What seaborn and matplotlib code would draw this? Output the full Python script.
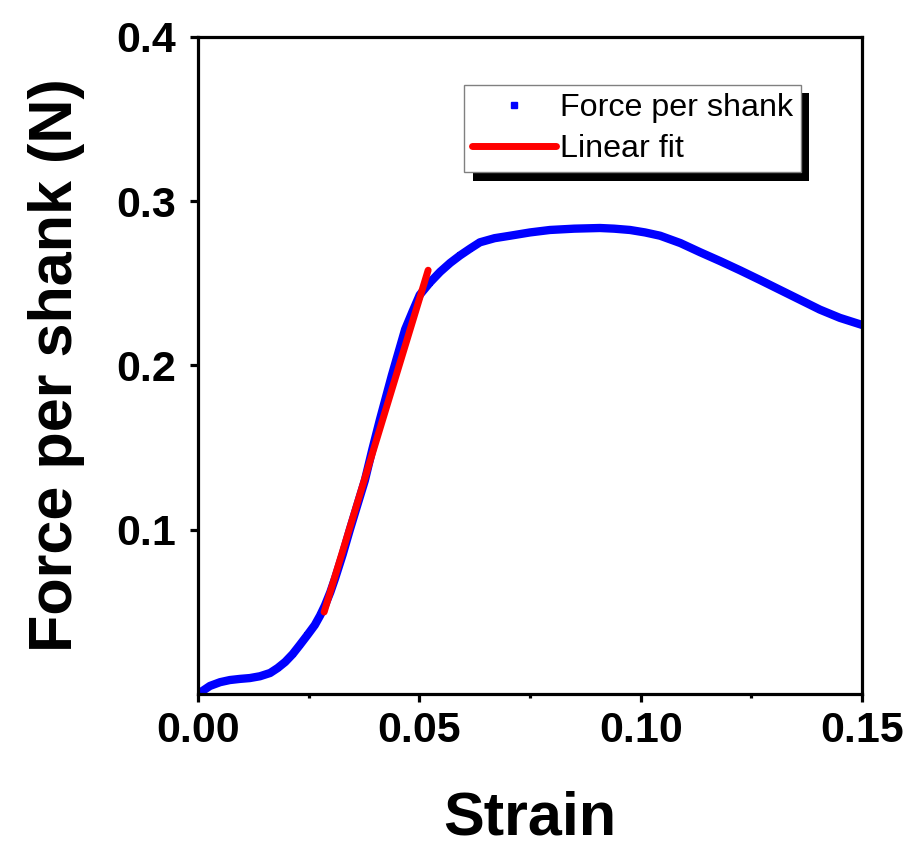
import numpy as np
import pandas as pd
import matplotlib
matplotlib.use("Agg")
import matplotlib.pyplot as plt
import matplotlib.patheffects as pe
from matplotlib.lines import Line2D
from matplotlib.ticker import MultipleLocator
import seaborn as sns

# values
strain = [0.0, 0.0027, 0.0050, 0.0072, 0.0095, 0.0117, 0.0140, 0.0163, 0.0180,
          0.0197, 0.0214, 0.0230, 0.0247, 0.0264, 0.0276, 0.0287, 0.0299, 0.0310,
          0.0327, 0.0343, 0.0360, 0.0377, 0.0394, 0.0411, 0.0425, 0.0438, 0.0453,
          0.0468, 0.0485, 0.0501, 0.0524, 0.0547, 0.0570, 0.0592, 0.0615, 0.0637,
          0.0670, 0.0705, 0.0750, 0.0795, 0.0850, 0.0908, 0.0940, 0.0976, 0.1010,
          0.1044, 0.1090, 0.1134, 0.1180, 0.1224, 0.1270, 0.1315, 0.1360, 0.1405,
          0.1450, 0.1500]
force = [0.0, 0.0049, 0.0072, 0.0085, 0.0092, 0.0097, 0.0108, 0.0128, 0.0158,
         0.0195, 0.0243, 0.0298, 0.0358, 0.0420, 0.0478, 0.0540, 0.0620, 0.0706,
         0.0850, 0.0999, 0.1150, 0.1300, 0.1490, 0.1670, 0.1810, 0.1940, 0.2080,
         0.2220, 0.2330, 0.2430, 0.2505, 0.2570, 0.2625, 0.2670, 0.2712, 0.2750,
         0.2775, 0.2790, 0.2810, 0.2825, 0.2833, 0.2837, 0.2833, 0.2825, 0.2810,
         0.2790, 0.2745, 0.2690, 0.2635, 0.2580, 0.2520, 0.2460, 0.2400, 0.2340,
         0.2290, 0.2247]
fit_strain = [0.0285, 0.0520]
fit_force = [0.0499, 0.2580]

df = pd.DataFrame({"Strain": strain, "Force": force})
fit = pd.DataFrame({"Strain": fit_strain, "Force": fit_force})

sns.set_style("ticks")
plt.rcParams["font.family"] = ["Liberation Sans", "DejaVu Sans"]
plt.rcParams["text.color"] = "black"
plt.rcParams["xtick.color"] = "black"
plt.rcParams["ytick.color"] = "black"
plt.rcParams["axes.labelcolor"] = "black"

fig = plt.figure(figsize=(9.11, 8.48), dpi=100)
ax = fig.add_axes([0.2173, 0.1816, 0.7289, 0.7748])

sns.lineplot(data=df, x="Strain", y="Force", ax=ax, color="blue", linewidth=6,
             marker="s", markersize=4, markeredgewidth=0, sort=False)
sns.lineplot(data=fit, x="Strain", y="Force", ax=ax, color="red", linewidth=5,
             solid_capstyle="round")

ax.set_xlim(0, 0.15)
ax.set_ylim(0, 0.4)
ax.set_xticks([0.0, 0.05, 0.10, 0.15])
ax.set_xticklabels(["0.00", "0.05", "0.10", "0.15"])
ax.xaxis.set_minor_locator(MultipleLocator(0.025))
ax.set_yticks([0.1, 0.2, 0.3, 0.4])
ax.set_yticklabels(["0.1", "0.2", "0.3", "0.4"])

for s in ax.spines.values():
    s.set_visible(True)
    s.set_linewidth(2.3)
    s.set_color("black")
ax.tick_params(axis="both", which="major", direction="out", length=6, width=2.3,
               labelsize=31, pad=6)
ax.tick_params(axis="y", which="major", pad=10)
ax.tick_params(axis="x", which="minor", direction="out", length=3, width=2.3)
for lab in ax.get_xticklabels() + ax.get_yticklabels():
    lab.set_fontweight("bold")

ax.set_xlabel("Strain", fontsize=44, fontweight="bold", labelpad=29)
ax.set_ylabel("Force per shank (N)", fontsize=44, fontweight="bold", labelpad=22)

handles = [Line2D([], [], color="blue", marker="s", linestyle="none", markersize=5),
           Line2D([], [], color="red", linewidth=5, solid_capstyle="round")]
leg = ax.legend(handles, ["Force per shank", "Linear fit"], loc="upper left",
                bbox_to_anchor=(0.401, 0.927), fontsize=23.2, frameon=True,
                fancybox=False, edgecolor="gray", facecolor="white",
                framealpha=1, handlelength=2.6, handletextpad=0.12,
                borderpad=0.25, labelspacing=0.35, borderaxespad=0)
leg.get_frame().set_linewidth(1)
leg.get_frame().set_path_effects([
    pe.SimplePatchShadow(offset=(6, -6), shadow_rgbFace="black", alpha=1),
    pe.Normal()])

fig.savefig("out.png", dpi=100)
